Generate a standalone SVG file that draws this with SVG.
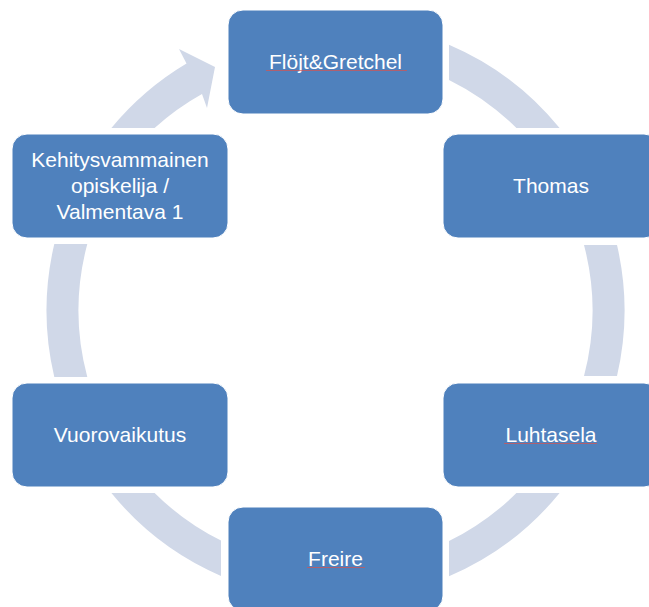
<svg xmlns="http://www.w3.org/2000/svg" width="649" height="607" viewBox="0 0 649 607">
  <style>
    .node rect { fill: #4F81BD; stroke: #FFFFFF; stroke-width: 1; }
    .node text { fill: #FFFFFF; font-family: "Liberation Sans", Arial, sans-serif; font-size: 21px; text-anchor: middle; }
    .arc { fill: #D0D8E8; stroke: none; }
    .spell { stroke: #D9534F; stroke-width: 1; opacity: 0.7; fill: none; }
  </style>
  <rect x="0" y="0" width="649" height="607" fill="#FFFFFF"/>
  <g id="connectors">
    <path class="arc" d="M 449,44.7 A 289 289 0 0 1 559.6,128 L 516.4,128 A 257 257 0 0 0 449,79.9 Z"/>
    <path class="arc" d="M 617,245 A 289 289 0 0 1 617,376 L 584,376 A 257 257 0 0 0 584,245 Z"/>
    <path class="arc" d="M 559.6,493 A 289 289 0 0 1 449,576.3 L 449,541.1 A 257 257 0 0 0 516.4,493 Z"/>
    <path class="arc" d="M 221,575.9 A 289 289 0 0 1 111.4,493 L 154.6,493 A 257 257 0 0 0 221,540.6 Z"/>
    <path class="arc" d="M 54.3,377 A 289 289 0 0 1 54.3,244 L 87.3,244 A 257 257 0 0 0 87.3,377 Z"/>
    <path class="arc" d="M 111.4,128 A 289 289 0 0 1 186.5,63.5 L 179,49 L 215,67 L 207,108 L 202,94 A 257 257 0 0 0 154.6,128 Z"/>
  </g>
  <g id="node-flojt" class="node">
    <rect x="228" y="10" width="215" height="104" rx="15" ry="15"/>
    <text x="335.5" y="69">Flöjt&amp;Gretchel</text>
    <line class="spell" x1="266" y1="70.5" x2="407" y2="70.5"/>
  </g>
  <g id="node-thomas" class="node">
    <rect x="443" y="134" width="216" height="104" rx="15" ry="15"/>
    <text x="551" y="193">Thomas</text>
  </g>
  <g id="node-luhtasela" class="node">
    <rect x="443" y="383" width="216" height="104" rx="15" ry="15"/>
    <text x="551" y="442">Luhtasela</text>
    <line class="spell" x1="504" y1="443.5" x2="597" y2="443.5"/>
  </g>
  <g id="node-freire" class="node">
    <rect x="228" y="507" width="215" height="104" rx="15" ry="15"/>
    <text x="335.5" y="566">Freire</text>
    <line class="spell" x1="307" y1="567.5" x2="365" y2="567.5"/>
  </g>
  <g id="node-vuorovaikutus" class="node">
    <rect x="12" y="383" width="216" height="104" rx="15" ry="15"/>
    <text x="120" y="442">Vuorovaikutus</text>
  </g>
  <g id="node-kehitysvammainen" class="node">
    <rect x="12" y="134" width="216" height="104" rx="15" ry="15"/>
    <text x="120" y="167">Kehitysvammainen</text>
    <text x="120" y="193">opiskelija /</text>
    <text x="120" y="219">Valmentava 1</text>
  </g>
</svg>
